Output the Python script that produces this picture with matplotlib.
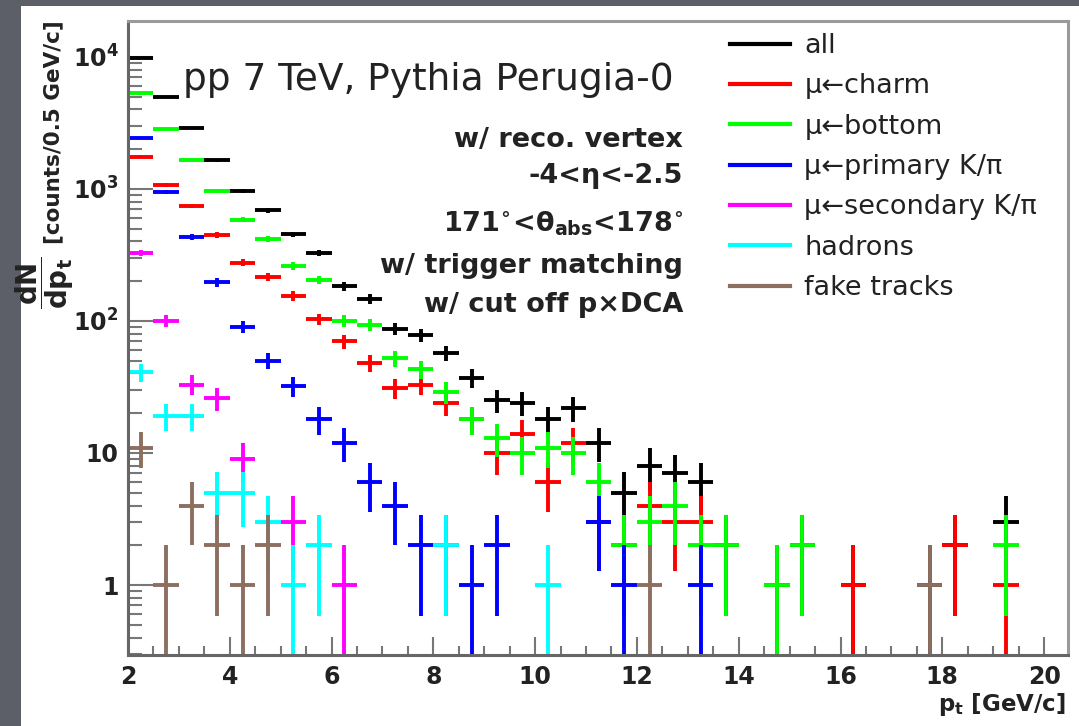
import numpy as np
import matplotlib.pyplot as plt
from matplotlib.lines import Line2D
from matplotlib.patches import Rectangle
from matplotlib.ticker import FixedLocator, FixedFormatter, LogLocator, MultipleLocator, NullFormatter

plt.rcParams['font.family'] = 'DejaVu Sans'
plt.rcParams['font.weight'] = 'bold'
plt.rcParams['mathtext.default'] = 'regular'

W, H = 1079, 726

# pt bins of 0.5 GeV/c between 2 and 20 GeV/c
pt_centers = np.arange(2.25, 20.0, 0.5)
half_width = 0.25

n_all = [9868, 4964, 2880, 1643, 967, 688, 452, 327, 183, 147, 87, 78, 57, 37, 25, 24, 18, 22,
         12, 5, 8, 7, 6, 2, 0, 1, 2, 0, 1, 0, 0, 1, 2, 0, 3, 0]
n_charm = [1760, 1070, 743, 448, 277, 217, 155, 103, 70, 48, 31, 33, 24, 18, 10, 14, 6, 12,
           3, 2, 4, 3, 3, 0, 0, 0, 0, 0, 1, 0, 0, 0, 2, 0, 1, 0]
n_bottom = [5310, 2830, 1650, 966, 585, 416, 261, 204, 100, 93, 52, 43, 29, 18, 13, 10, 11, 10,
            6, 2, 3, 4, 2, 2, 0, 1, 2, 0, 0, 0, 0, 0, 0, 0, 2, 0]
n_primary = [2420, 944, 431, 196, 90, 50, 32, 18, 12, 6, 4, 2, 2, 1, 2, 0, 0, 0,
             3, 1, 0, 0, 1] + [0] * 13
n_secondary = [326, 100, 33, 26, 9, 0, 3, 0, 1] + [0] * 27
n_hadrons = [41, 19, 19, 5, 5, 3, 1, 2, 0, 0, 0, 0, 2, 0, 0, 0, 1] + [0] * 19
n_fake = [11, 1, 4, 2, 1, 2] + [0] * 14 + [1] + [0] * 10 + [1] + [0] * 4

series = [
    ("all", n_all, "black"),
    ("\u03bc\u2190charm", n_charm, "#ff0000"),
    ("\u03bc\u2190bottom", n_bottom, "#00ff00"),
    ("\u03bc\u2190primary K/\u03c0", n_primary, "#0000ff"),
    ("\u03bc\u2190secondary K/\u03c0", n_secondary, "#ff00ff"),
    ("hadrons", n_hadrons, "#00ffff"),
    ("fake tracks", n_fake, "#8c6f60"),
]

fig = plt.figure(figsize=(W / 100, H / 100), dpi=100, facecolor="white")
# slide background strips around the canvas
fig.patches.append(Rectangle((0, 0), 21 / W, 1, transform=fig.transFigure,
                             facecolor="#5c5f67", edgecolor="none", zorder=-10))
fig.patches.append(Rectangle((0, 1 - 6 / H), 1, 6 / H, transform=fig.transFigure,
                             facecolor="#5c5f67", edgecolor="none", zorder=-10))

ax = fig.add_axes([128 / W, 71 / H, (1068 - 128) / W, (655 - 21) / H])
ax.set_yscale("log")
ax.set_xlim(2, 20.47)
ax.set_ylim(0.295, 1.87e4)

handles = []
for label, counts, color in series:
    y = np.asarray(counts, dtype=float)
    m = y > 0
    x = pt_centers[m]
    y = y[m]
    err = np.sqrt(y)
    lo = y - np.maximum(y - err, 1e-3)
    ax.errorbar(x, y, xerr=half_width, yerr=[lo, err], fmt="none", ecolor=color,
                elinewidth=2.8, capsize=0)
    handles.append(Line2D([], [], color=color, lw=3))

# axis frame and ticks
for side in ("left", "bottom"):
    ax.spines[side].set_color("#666666")
    ax.spines[side].set_linewidth(2.2)
for side in ("top", "right"):
    ax.spines[side].set_color("#9a9a9a")
    ax.spines[side].set_linewidth(2.2)

ax.xaxis.set_major_locator(MultipleLocator(2))
ax.xaxis.set_minor_locator(MultipleLocator(0.5))
ax.yaxis.set_major_locator(FixedLocator([1, 10, 100, 1000, 10000]))
ax.yaxis.set_major_formatter(FixedFormatter(["1", "10", "$10^{2}$", "$10^{3}$", "$10^{4}$"]))
ax.yaxis.set_minor_locator(LogLocator(base=10, subs=np.arange(2, 10), numticks=20))
ax.yaxis.set_minor_formatter(NullFormatter())

ax.tick_params(axis="x", which="major", direction="in", length=13, width=1.5,
               color="#777777", labelsize=17, pad=7, top=False)
ax.tick_params(axis="x", which="minor", direction="in", length=6.5, width=1.5,
               color="#777777", top=False)
ax.tick_params(axis="y", which="major", direction="in", length=18, width=1.5,
               color="#777777", labelsize=17, pad=7, right=False)
ax.tick_params(axis="y", which="minor", direction="in", length=10, width=1.5,
               color="#777777", right=False)
for t in ax.get_xticklabels() + ax.get_yticklabels():
    t.set_fontweight("bold")
    t.set_color("#222222")


def fx(px):
    return px / W


def fy(py):
    return 1 - py / H


fig.text(fx(183), fy(90), "pp 7 TeV, Pythia Perugia-0", fontsize=27, fontweight="normal",
         color="#222222", ha="left", va="baseline")

cuts = [
    ("w/ reco. vertex", 147),
    ("-4<\u03b7<-2.5", 183),
    (r"171$^{\circ}$<$\theta_{abs}$<178$^{\circ}$", 232),
    ("w/ trigger matching", 273),
    ("w/ cut off p\u00d7DCA", 312),
]
for txt, yb in cuts:
    fig.text(fx(683), fy(yb), txt, fontsize=19.5, fontweight="bold", color="#222222",
             ha="right", va="baseline")

ax.legend(handles, [s[0] for s in series], loc="upper left",
          bbox_to_anchor=(fx(730), fy(33)), bbox_transform=fig.transFigure,
          frameon=False, borderpad=0, borderaxespad=0, handlelength=2.2,
          handletextpad=0.55, labelspacing=0.53,
          prop={"size": 19.5, "weight": "normal"}, labelcolor="#222222")

# y title: unit part plus the dN/dpt fraction below it
fig.text(fx(53), fy(20), "[counts/0.5 GeV/c]", rotation=90,
         fontsize=15.5, fontweight="bold", color="#222222", ha="center", va="top")
fig.text(fx(45), fy(283), r"$\dfrac{dN}{dp_{t}}$", rotation=90,
         fontsize=20, fontweight="bold", color="#222222", ha="center", va="center")
fig.text(fx(1066), fy(705), r"p$_{t}$ [GeV/c]", fontsize=16.5, fontweight="bold",
         color="#222222", ha="right", va="center")

fig.savefig("out.png", dpi=100, facecolor=fig.get_facecolor())
